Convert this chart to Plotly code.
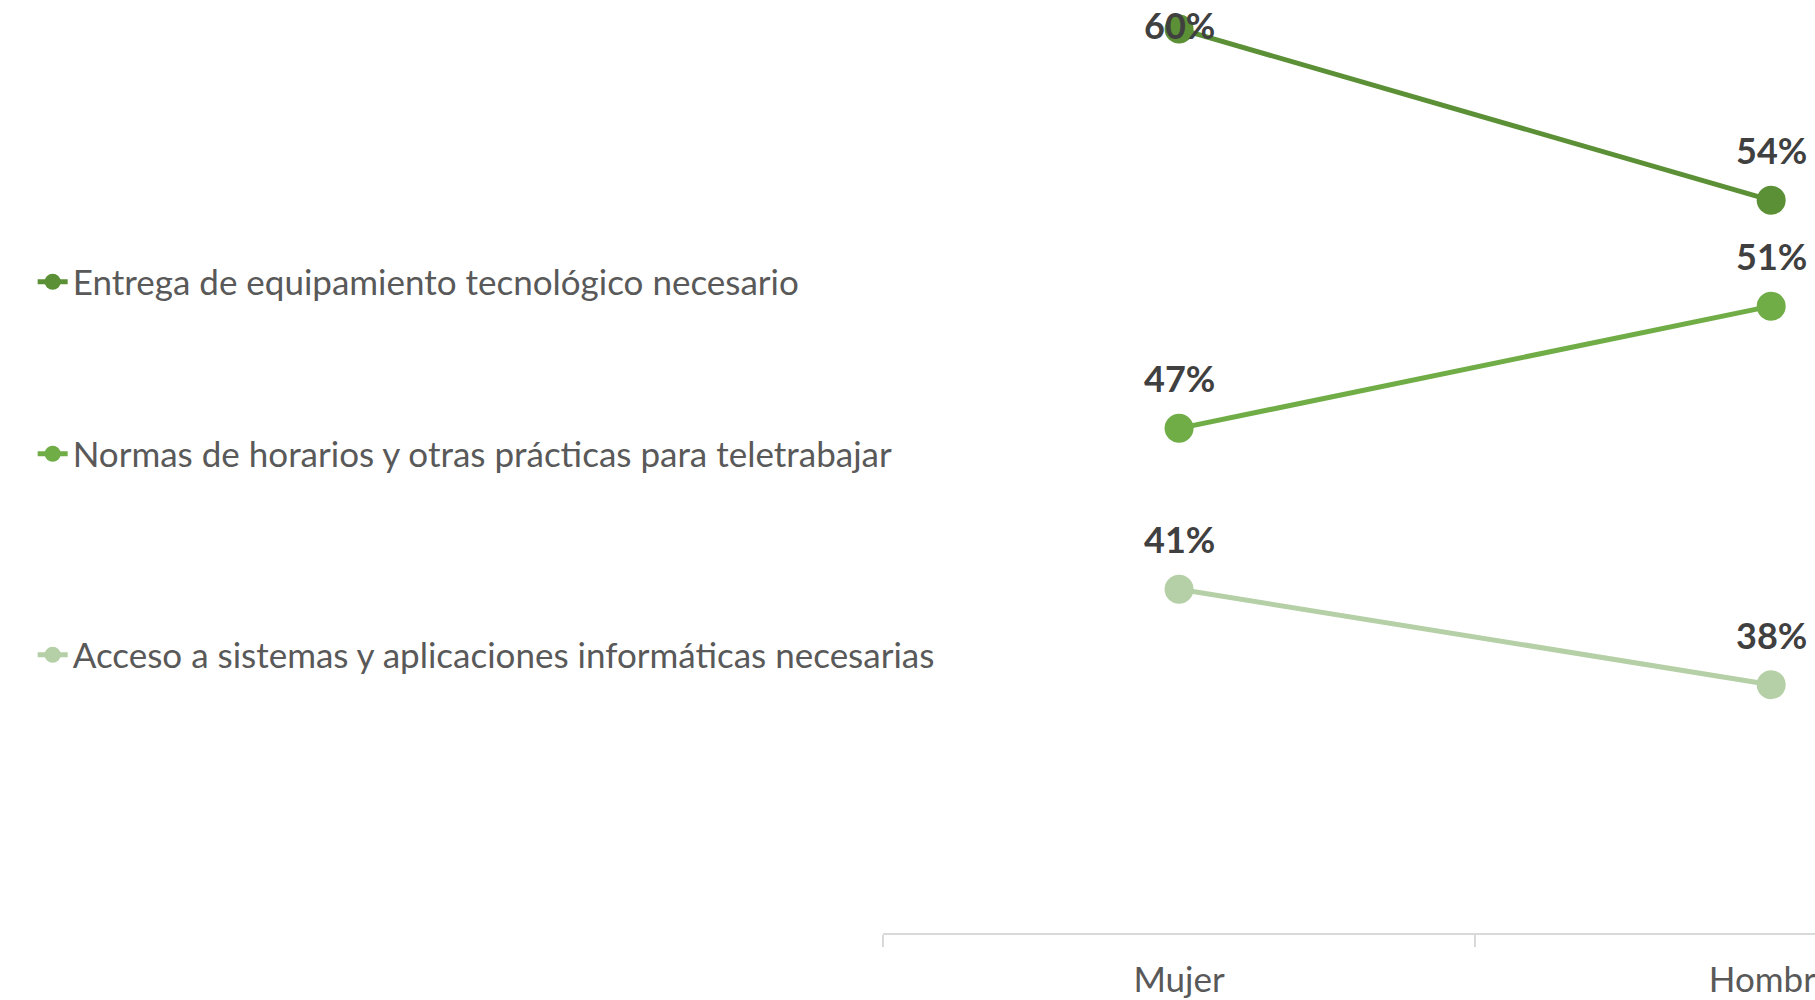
import plotly.graph_objects as go

categories = ["Mujer", "Hombre"]
series_names = [
    "Entrega de equipamiento tecnológico necesario",
    "Normas de horarios y otras prácticas para teletrabajar",
    "Acceso a sistemas y aplicaciones informáticas necesarias",
]
entrega = [0.60, 0.5425]
normas = [0.466, 0.507]
acceso = [0.412, 0.38]
colors = ["#5B9036", "#70AD47", "#B5D0A6"]

W, H = 1815, 1000
M_L, M_R, M_T, M_B = 883, 0, 0, 67
y_range = [0.2967, 0.6097]
plot_h = H - M_T - M_B

fig = go.Figure()
legend_ids = ["legend", "legend2", "legend3"]
for name, vals, col, lg in zip(series_names, [entrega, normas, acceso], colors, legend_ids):
    fig.add_trace(go.Scatter(
        x=categories, y=vals, name=name, mode="lines+markers",
        line=dict(color=col, width=5),
        marker=dict(color=col, size=29),
        legend=lg, cliponaxis=False,
    ))
    for c, v in zip(categories, vals):
        py = M_T + (y_range[1] - v) / (y_range[1] - y_range[0]) * plot_h
        shift = 50
        if py - shift < 25:
            shift = py - 25
        fig.add_annotation(
            x=c, y=v, text=f"{v*100:.0f}%", showarrow=False, yshift=shift,
            font=dict(family="Lato", size=36, color="#404040", weight="bold"),
        )

legend_y = [282, 454, 655]
common_leg = dict(xref="container", yref="container", xanchor="left", yanchor="middle",
                  bgcolor="rgba(0,0,0,0)", font=dict(family="Lato", size=35, color="#595959"))
fig.update_layout(
    width=W, height=H,
    margin=dict(l=M_L, r=M_R, t=M_T, b=M_B, autoexpand=False),
    plot_bgcolor="white", paper_bgcolor="white",
    showlegend=True,
    legend=dict(x=0.018, y=1 - legend_y[0] / H, **common_leg),
    legend2=dict(x=0.018, y=1 - legend_y[1] / H, **common_leg),
    legend3=dict(x=0.018, y=1 - legend_y[2] / H, **common_leg),
    xaxis=dict(type="category", categoryorder="array", categoryarray=categories,
               range=[-0.5, 1.074], tickson="boundaries", ticks="outside", ticklen=12,
               tickcolor="#D9D9D9", tickwidth=1.5, showline=True, linecolor="#D9D9D9", linewidth=2,
               showgrid=False, zeroline=False, ticklabelstandoff=15,
               tickfont=dict(family="Lato", size=35, color="#595959")),
    yaxis=dict(range=y_range, visible=False, showgrid=False, zeroline=False),
)

fig.write_html("out.html", config={"displayModeBar": False},
               post_script="document.body.style.margin='0';document.body.style.overflow='hidden';")
